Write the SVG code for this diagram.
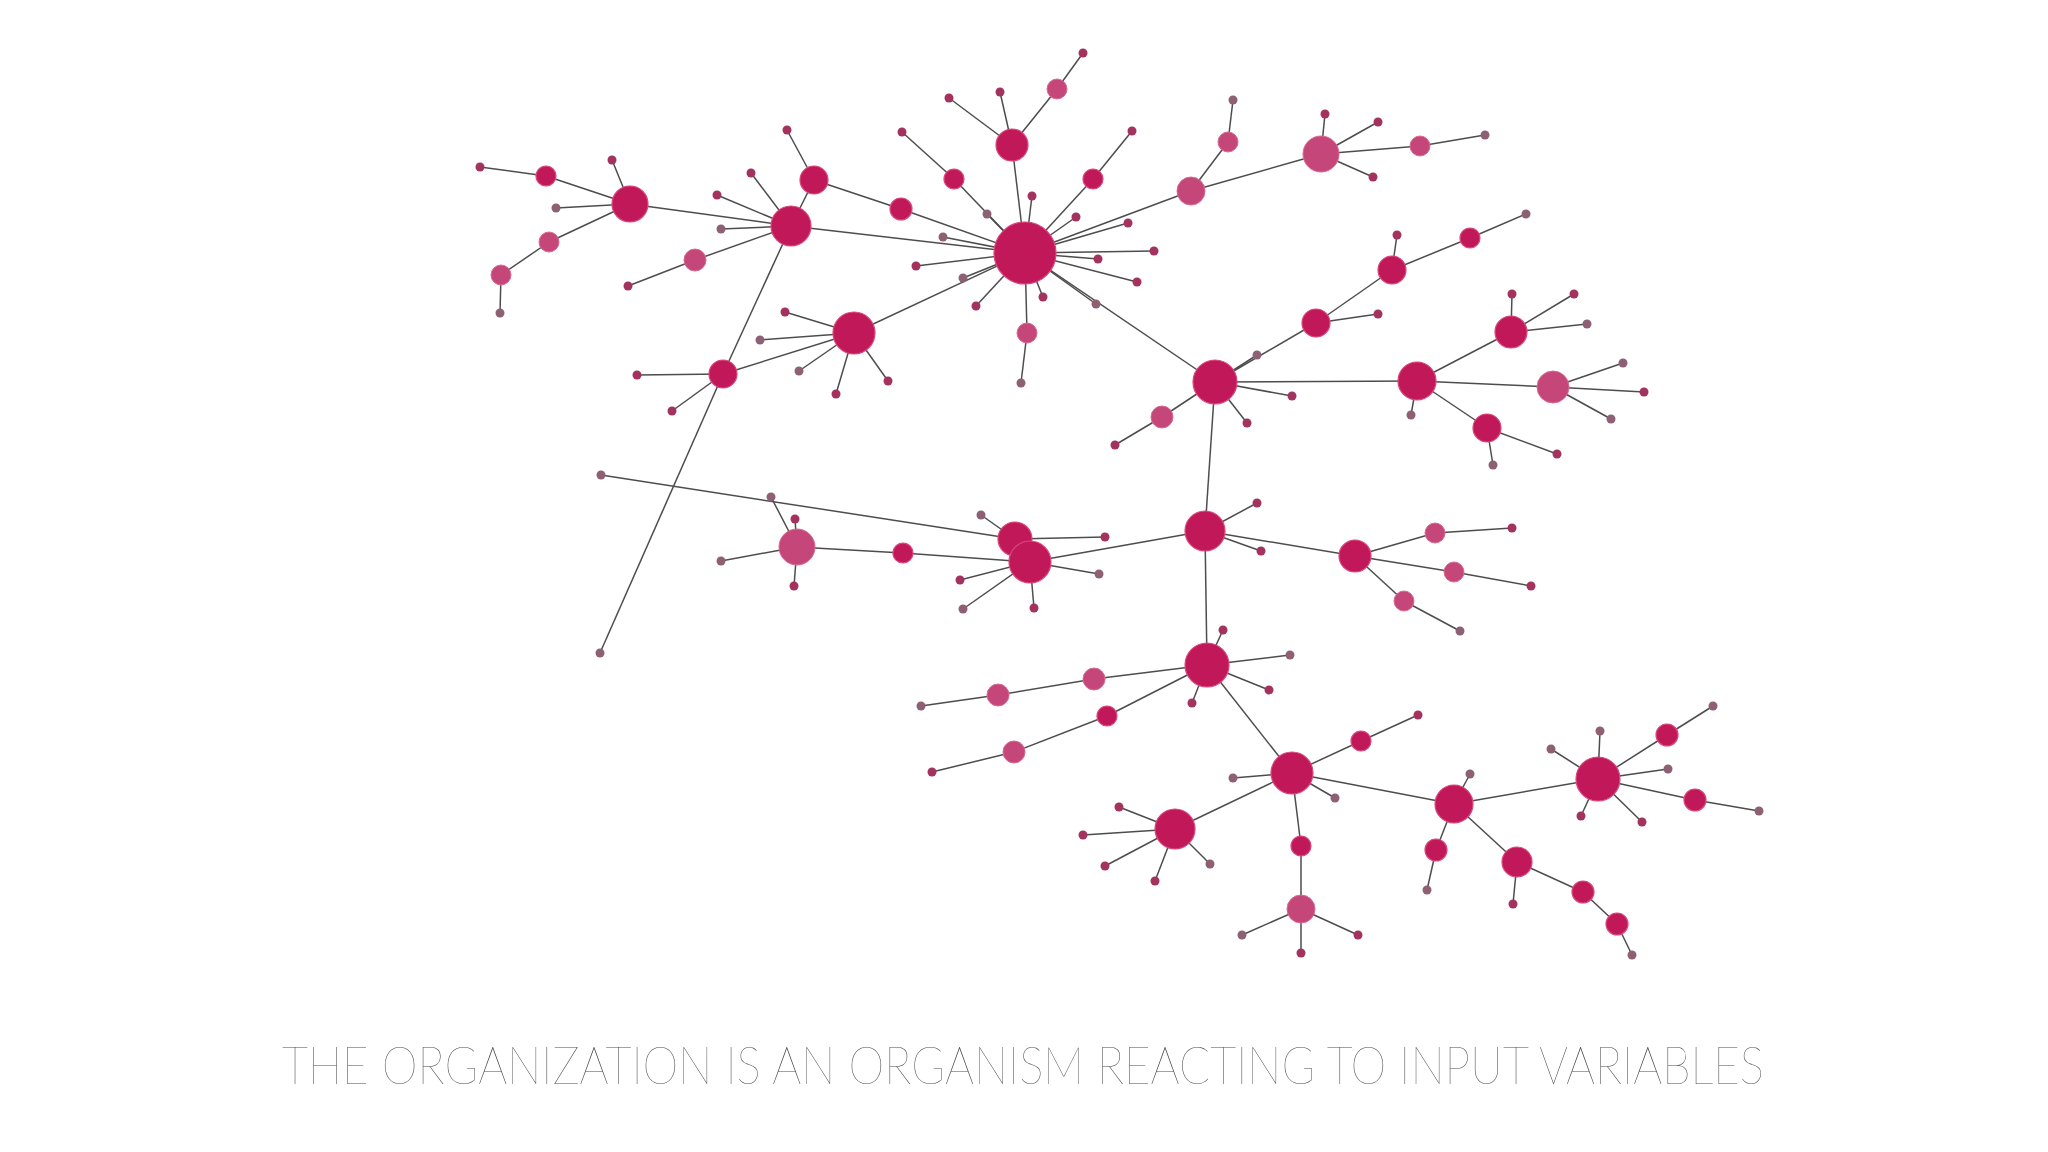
<svg xmlns="http://www.w3.org/2000/svg" width="2048" height="1152" viewBox="0 0 2048 1152">
<style>
.e line{stroke:#4d4d4d;stroke-width:1.5}
.h{fill:#c1185a;stroke:#d9487c;stroke-width:1.2}
.s{fill:#c5477a;stroke:#da6a92;stroke-width:1}
.l{fill:#a3325e}
.g{fill:#8e6073}
.cap{font-family:Lato,"Open Sans","Liberation Sans",sans-serif;font-weight:100;font-size:52px;fill:#4a4a4a}
</style>
<rect width="2048" height="1152" fill="#ffffff"/>
<g id="connectors" class="e">
<line x1="480" y1="167" x2="546" y2="176"/><line x1="546" y1="176" x2="630" y2="204"/><line x1="630" y1="204" x2="612" y2="160"/><line x1="630" y1="204" x2="556" y2="208"/><line x1="630" y1="204" x2="549" y2="242"/><line x1="549" y1="242" x2="501" y2="275"/><line x1="501" y1="275" x2="500" y2="313"/><line x1="630" y1="204" x2="791" y2="226"/>
<line x1="791" y1="226" x2="814" y2="180"/><line x1="814" y1="180" x2="787" y2="130"/><line x1="814" y1="180" x2="901" y2="209"/><line x1="901" y1="209" x2="1025" y2="253"/><line x1="902" y1="132" x2="954" y2="179"/>
<line x1="791" y1="226" x2="751" y2="173"/><line x1="791" y1="226" x2="717" y2="195"/><line x1="791" y1="226" x2="721" y2="229"/><line x1="791" y1="226" x2="695" y2="260"/><line x1="695" y1="260" x2="628" y2="286"/><line x1="791" y1="226" x2="1025" y2="253"/><line x1="791" y1="226" x2="723" y2="374"/><line x1="723" y1="374" x2="600" y2="653"/><line x1="723" y1="374" x2="637" y2="375"/><line x1="723" y1="374" x2="672" y2="411"/><line x1="723" y1="374" x2="854" y2="333"/>
<line x1="854" y1="333" x2="785" y2="312"/><line x1="854" y1="333" x2="760" y2="340"/><line x1="854" y1="333" x2="799" y2="371"/><line x1="854" y1="333" x2="836" y2="394"/><line x1="854" y1="333" x2="888" y2="381"/><line x1="854" y1="333" x2="1025" y2="253"/>
<line x1="1025" y1="253" x2="1012" y2="145"/><line x1="1025" y1="253" x2="954" y2="179"/><line x1="1025" y1="253" x2="987" y2="214"/><line x1="1025" y1="253" x2="1093" y2="179"/><line x1="1025" y1="253" x2="1032" y2="196"/><line x1="1025" y1="253" x2="1076" y2="217"/><line x1="1025" y1="253" x2="1128" y2="223"/><line x1="1025" y1="253" x2="1154" y2="251"/><line x1="1025" y1="253" x2="1098" y2="259"/><line x1="1025" y1="253" x2="1137" y2="282"/><line x1="1025" y1="253" x2="1096" y2="304"/><line x1="1025" y1="253" x2="1043" y2="297"/><line x1="1025" y1="253" x2="976" y2="306"/><line x1="1025" y1="253" x2="963" y2="278"/><line x1="1025" y1="253" x2="916" y2="266"/><line x1="1025" y1="253" x2="943" y2="237"/><line x1="1025" y1="253" x2="1027" y2="333"/><line x1="1027" y1="333" x2="1021" y2="383"/><line x1="1025" y1="253" x2="1191" y2="191"/><line x1="1025" y1="253" x2="1215" y2="382"/>
<line x1="1012" y1="145" x2="949" y2="98"/><line x1="1012" y1="145" x2="1000" y2="92"/><line x1="1012" y1="145" x2="1057" y2="89"/><line x1="1057" y1="89" x2="1083" y2="53"/><line x1="1093" y1="179" x2="1132" y2="131"/>
<line x1="1191" y1="191" x2="1228" y2="142"/><line x1="1228" y1="142" x2="1233" y2="100"/><line x1="1191" y1="191" x2="1321" y2="154"/><line x1="1321" y1="154" x2="1325" y2="114"/><line x1="1321" y1="154" x2="1378" y2="122"/><line x1="1321" y1="154" x2="1420" y2="146"/><line x1="1321" y1="154" x2="1373" y2="177"/><line x1="1420" y1="146" x2="1485" y2="135"/>
<line x1="1215" y1="382" x2="1257" y2="355"/><line x1="1215" y1="382" x2="1292" y2="396"/><line x1="1215" y1="382" x2="1247" y2="423"/><line x1="1215" y1="382" x2="1162" y2="417"/><line x1="1162" y1="417" x2="1115" y2="445"/><line x1="1215" y1="382" x2="1316" y2="323"/><line x1="1316" y1="323" x2="1378" y2="314"/><line x1="1316" y1="323" x2="1392" y2="270"/><line x1="1392" y1="270" x2="1397" y2="235"/><line x1="1392" y1="270" x2="1470" y2="238"/><line x1="1470" y1="238" x2="1526" y2="214"/>
<line x1="1215" y1="382" x2="1417" y2="381"/><line x1="1417" y1="381" x2="1511" y2="332"/><line x1="1417" y1="381" x2="1553" y2="387"/><line x1="1417" y1="381" x2="1487" y2="428"/><line x1="1417" y1="381" x2="1411" y2="415"/><line x1="1511" y1="332" x2="1512" y2="294"/><line x1="1511" y1="332" x2="1574" y2="294"/><line x1="1511" y1="332" x2="1587" y2="324"/><line x1="1553" y1="387" x2="1623" y2="363"/><line x1="1553" y1="387" x2="1644" y2="392"/><line x1="1553" y1="387" x2="1611" y2="419"/><line x1="1487" y1="428" x2="1557" y2="454"/><line x1="1487" y1="428" x2="1493" y2="465"/>
<line x1="1215" y1="382" x2="1205" y2="531"/><line x1="1205" y1="531" x2="1257" y2="503"/><line x1="1205" y1="531" x2="1261" y2="551"/><line x1="1205" y1="531" x2="1355" y2="556"/><line x1="1355" y1="556" x2="1435" y2="533"/><line x1="1435" y1="533" x2="1512" y2="528"/><line x1="1355" y1="556" x2="1454" y2="572"/><line x1="1454" y1="572" x2="1531" y2="586"/><line x1="1355" y1="556" x2="1404" y2="601"/><line x1="1404" y1="601" x2="1460" y2="631"/>
<line x1="1205" y1="531" x2="1030" y2="562"/><line x1="601" y1="475" x2="1015" y2="539"/><line x1="1015" y1="539" x2="981" y2="515"/><line x1="1015" y1="539" x2="1105" y2="537"/><line x1="1030" y1="562" x2="1099" y2="574"/><line x1="1030" y1="562" x2="960" y2="580"/><line x1="1030" y1="562" x2="963" y2="609"/><line x1="1030" y1="562" x2="1034" y2="608"/><line x1="1030" y1="562" x2="903" y2="553"/><line x1="903" y1="553" x2="797" y2="547"/><line x1="797" y1="547" x2="771" y2="497"/><line x1="797" y1="547" x2="795" y2="519"/><line x1="797" y1="547" x2="721" y2="561"/><line x1="797" y1="547" x2="794" y2="586"/>
<line x1="1205" y1="531" x2="1207" y2="665"/><line x1="1207" y1="665" x2="1223" y2="630"/><line x1="1207" y1="665" x2="1290" y2="655"/><line x1="1207" y1="665" x2="1269" y2="690"/><line x1="1207" y1="665" x2="1192" y2="703"/><line x1="1207" y1="665" x2="1094" y2="679"/><line x1="1094" y1="679" x2="998" y2="695"/><line x1="998" y1="695" x2="921" y2="706"/><line x1="1207" y1="665" x2="1107" y2="716"/><line x1="1107" y1="716" x2="1014" y2="752"/><line x1="1014" y1="752" x2="932" y2="772"/><line x1="1207" y1="665" x2="1292" y2="773"/>
<line x1="1292" y1="773" x2="1233" y2="778"/><line x1="1292" y1="773" x2="1335" y2="798"/><line x1="1292" y1="773" x2="1175" y2="829"/><line x1="1175" y1="829" x2="1119" y2="807"/><line x1="1175" y1="829" x2="1083" y2="835"/><line x1="1175" y1="829" x2="1105" y2="866"/><line x1="1175" y1="829" x2="1155" y2="881"/><line x1="1175" y1="829" x2="1210" y2="864"/><line x1="1292" y1="773" x2="1301" y2="846"/><line x1="1301" y1="846" x2="1301" y2="909"/><line x1="1301" y1="909" x2="1242" y2="935"/><line x1="1301" y1="909" x2="1301" y2="953"/><line x1="1301" y1="909" x2="1358" y2="935"/><line x1="1292" y1="773" x2="1361" y2="741"/><line x1="1361" y1="741" x2="1418" y2="715"/><line x1="1292" y1="773" x2="1454" y2="804"/>
<line x1="1454" y1="804" x2="1470" y2="774"/><line x1="1454" y1="804" x2="1598" y2="779"/><line x1="1454" y1="804" x2="1436" y2="850"/><line x1="1436" y1="850" x2="1427" y2="890"/><line x1="1454" y1="804" x2="1517" y2="862"/><line x1="1517" y1="862" x2="1513" y2="904"/><line x1="1517" y1="862" x2="1583" y2="892"/><line x1="1583" y1="892" x2="1617" y2="924"/><line x1="1617" y1="924" x2="1632" y2="955"/>
<line x1="1598" y1="779" x2="1600" y2="731"/><line x1="1598" y1="779" x2="1551" y2="749"/><line x1="1598" y1="779" x2="1667" y2="735"/><line x1="1667" y1="735" x2="1713" y2="706"/><line x1="1598" y1="779" x2="1668" y2="769"/><line x1="1598" y1="779" x2="1695" y2="800"/><line x1="1695" y1="800" x2="1759" y2="811"/><line x1="1598" y1="779" x2="1642" y2="822"/><line x1="1598" y1="779" x2="1581" y2="816"/>
</g>
<g id="nodes">
<g id="n1"><circle class="l" cx="480" cy="167" r="4.5"/></g>
<g id="n2"><circle class="h" cx="546" cy="176" r="10"/></g>
<g id="n3"><circle class="h" cx="630" cy="204" r="18"/></g>
<g id="n4"><circle class="l" cx="612" cy="160" r="4.5"/></g>
<g id="n5"><circle class="g" cx="556" cy="208" r="4.5"/></g>
<g id="n6"><circle class="s" cx="549" cy="242" r="10"/></g>
<g id="n7"><circle class="s" cx="501" cy="275" r="10"/></g>
<g id="n8"><circle class="g" cx="500" cy="313" r="4.5"/></g>
<g id="n9"><circle class="h" cx="791" cy="226" r="20"/></g>
<g id="n10"><circle class="h" cx="814" cy="180" r="14"/></g>
<g id="n11"><circle class="l" cx="787" cy="130" r="4.5"/></g>
<g id="n12"><circle class="l" cx="751" cy="173" r="4.5"/></g>
<g id="n13"><circle class="l" cx="717" cy="195" r="4.5"/></g>
<g id="n14"><circle class="g" cx="721" cy="229" r="4.5"/></g>
<g id="n15"><circle class="s" cx="695" cy="260" r="11"/></g>
<g id="n16"><circle class="l" cx="628" cy="286" r="4.5"/></g>
<g id="n17"><circle class="h" cx="854" cy="333" r="21"/></g>
<g id="n18"><circle class="l" cx="785" cy="312" r="4.5"/></g>
<g id="n19"><circle class="g" cx="760" cy="340" r="4.5"/></g>
<g id="n20"><circle class="g" cx="799" cy="371" r="4.5"/></g>
<g id="n21"><circle class="l" cx="836" cy="394" r="4.5"/></g>
<g id="n22"><circle class="l" cx="888" cy="381" r="4.5"/></g>
<g id="n23"><circle class="h" cx="723" cy="374" r="14"/></g>
<g id="n24"><circle class="l" cx="637" cy="375" r="4.5"/></g>
<g id="n25"><circle class="l" cx="672" cy="411" r="4.5"/></g>
<g id="n26"><circle class="g" cx="600" cy="653" r="4.5"/></g>
<g id="n27"><circle class="h" cx="901" cy="209" r="11"/></g>
<g id="n28"><circle class="l" cx="902" cy="132" r="4.5"/></g>
<g id="n29"><circle class="h" cx="1025" cy="253" r="31"/></g>
<g id="n30"><circle class="h" cx="1012" cy="145" r="16"/></g>
<g id="n31"><circle class="l" cx="949" cy="98" r="4.5"/></g>
<g id="n32"><circle class="l" cx="1000" cy="92" r="4.5"/></g>
<g id="n33"><circle class="s" cx="1057" cy="89" r="10"/></g>
<g id="n34"><circle class="l" cx="1083" cy="53" r="4.5"/></g>
<g id="n35"><circle class="h" cx="954" cy="179" r="10"/></g>
<g id="n36"><circle class="g" cx="987" cy="214" r="4.5"/></g>
<g id="n37"><circle class="h" cx="1093" cy="179" r="10"/></g>
<g id="n38"><circle class="l" cx="1132" cy="131" r="4.5"/></g>
<g id="n39"><circle class="l" cx="1032" cy="196" r="4.5"/></g>
<g id="n40"><circle class="l" cx="1076" cy="217" r="4.5"/></g>
<g id="n41"><circle class="l" cx="1128" cy="223" r="4.5"/></g>
<g id="n42"><circle class="l" cx="1154" cy="251" r="4.5"/></g>
<g id="n43"><circle class="l" cx="1098" cy="259" r="4.5"/></g>
<g id="n44"><circle class="l" cx="1137" cy="282" r="4.5"/></g>
<g id="n45"><circle class="g" cx="1096" cy="304" r="4.5"/></g>
<g id="n46"><circle class="l" cx="1043" cy="297" r="4.5"/></g>
<g id="n47"><circle class="l" cx="976" cy="306" r="4.5"/></g>
<g id="n48"><circle class="g" cx="963" cy="278" r="4.5"/></g>
<g id="n49"><circle class="l" cx="916" cy="266" r="4.5"/></g>
<g id="n50"><circle class="g" cx="943" cy="237" r="4.5"/></g>
<g id="n51"><circle class="s" cx="1027" cy="333" r="10"/></g>
<g id="n52"><circle class="g" cx="1021" cy="383" r="4.5"/></g>
<g id="n53"><circle class="s" cx="1191" cy="191" r="14"/></g>
<g id="n54"><circle class="s" cx="1228" cy="142" r="10"/></g>
<g id="n55"><circle class="g" cx="1233" cy="100" r="4.5"/></g>
<g id="n56"><circle class="s" cx="1321" cy="154" r="18"/></g>
<g id="n57"><circle class="l" cx="1325" cy="114" r="4.5"/></g>
<g id="n58"><circle class="l" cx="1378" cy="122" r="4.5"/></g>
<g id="n59"><circle class="s" cx="1420" cy="146" r="10"/></g>
<g id="n60"><circle class="g" cx="1485" cy="135" r="4.5"/></g>
<g id="n61"><circle class="l" cx="1373" cy="177" r="4.5"/></g>
<g id="n62"><circle class="h" cx="1215" cy="382" r="22"/></g>
<g id="n63"><circle class="g" cx="1257" cy="355" r="4.5"/></g>
<g id="n64"><circle class="l" cx="1292" cy="396" r="4.5"/></g>
<g id="n65"><circle class="l" cx="1247" cy="423" r="4.5"/></g>
<g id="n66"><circle class="s" cx="1162" cy="417" r="11"/></g>
<g id="n67"><circle class="l" cx="1115" cy="445" r="4.5"/></g>
<g id="n68"><circle class="h" cx="1316" cy="323" r="14"/></g>
<g id="n69"><circle class="l" cx="1378" cy="314" r="4.5"/></g>
<g id="n70"><circle class="h" cx="1392" cy="270" r="14"/></g>
<g id="n71"><circle class="l" cx="1397" cy="235" r="4.5"/></g>
<g id="n72"><circle class="h" cx="1470" cy="238" r="10"/></g>
<g id="n73"><circle class="g" cx="1526" cy="214" r="4.5"/></g>
<g id="n74"><circle class="h" cx="1417" cy="381" r="19"/></g>
<g id="n75"><circle class="h" cx="1511" cy="332" r="16"/></g>
<g id="n76"><circle class="l" cx="1512" cy="294" r="4.5"/></g>
<g id="n77"><circle class="l" cx="1574" cy="294" r="4.5"/></g>
<g id="n78"><circle class="g" cx="1587" cy="324" r="4.5"/></g>
<g id="n79"><circle class="s" cx="1553" cy="387" r="16"/></g>
<g id="n80"><circle class="g" cx="1623" cy="363" r="4.5"/></g>
<g id="n81"><circle class="l" cx="1644" cy="392" r="4.5"/></g>
<g id="n82"><circle class="g" cx="1611" cy="419" r="4.5"/></g>
<g id="n83"><circle class="h" cx="1487" cy="428" r="14"/></g>
<g id="n84"><circle class="l" cx="1557" cy="454" r="4.5"/></g>
<g id="n85"><circle class="g" cx="1493" cy="465" r="4.5"/></g>
<g id="n86"><circle class="g" cx="1411" cy="415" r="4.5"/></g>
<g id="n87"><circle class="h" cx="1205" cy="531" r="20"/></g>
<g id="n88"><circle class="l" cx="1257" cy="503" r="4.5"/></g>
<g id="n89"><circle class="l" cx="1261" cy="551" r="4.5"/></g>
<g id="n90"><circle class="h" cx="1355" cy="556" r="16"/></g>
<g id="n91"><circle class="s" cx="1435" cy="533" r="10"/></g>
<g id="n92"><circle class="l" cx="1512" cy="528" r="4.5"/></g>
<g id="n93"><circle class="s" cx="1454" cy="572" r="10"/></g>
<g id="n94"><circle class="l" cx="1531" cy="586" r="4.5"/></g>
<g id="n95"><circle class="s" cx="1404" cy="601" r="10"/></g>
<g id="n96"><circle class="g" cx="1460" cy="631" r="4.5"/></g>
<g id="n97"><circle class="h" cx="1015" cy="539" r="17"/></g>
<g id="n98"><circle class="h" cx="1030" cy="562" r="21"/></g>
<g id="n99"><circle class="g" cx="981" cy="515" r="4.5"/></g>
<g id="n100"><circle class="l" cx="1105" cy="537" r="4.5"/></g>
<g id="n101"><circle class="g" cx="1099" cy="574" r="4.5"/></g>
<g id="n102"><circle class="l" cx="960" cy="580" r="4.5"/></g>
<g id="n103"><circle class="g" cx="963" cy="609" r="4.5"/></g>
<g id="n104"><circle class="l" cx="1034" cy="608" r="4.5"/></g>
<g id="n105"><circle class="h" cx="903" cy="553" r="10"/></g>
<g id="n106"><circle class="s" cx="797" cy="547" r="18"/></g>
<g id="n107"><circle class="g" cx="771" cy="497" r="4.5"/></g>
<g id="n108"><circle class="l" cx="795" cy="519" r="4.5"/></g>
<g id="n109"><circle class="g" cx="721" cy="561" r="4.5"/></g>
<g id="n110"><circle class="l" cx="794" cy="586" r="4.5"/></g>
<g id="n111"><circle class="g" cx="601" cy="475" r="4.5"/></g>
<g id="n112"><circle class="h" cx="1207" cy="665" r="22"/></g>
<g id="n113"><circle class="l" cx="1223" cy="630" r="4.5"/></g>
<g id="n114"><circle class="g" cx="1290" cy="655" r="4.5"/></g>
<g id="n115"><circle class="l" cx="1269" cy="690" r="4.5"/></g>
<g id="n116"><circle class="l" cx="1192" cy="703" r="4.5"/></g>
<g id="n117"><circle class="s" cx="1094" cy="679" r="11"/></g>
<g id="n118"><circle class="s" cx="998" cy="695" r="11"/></g>
<g id="n119"><circle class="g" cx="921" cy="706" r="4.5"/></g>
<g id="n120"><circle class="h" cx="1107" cy="716" r="10"/></g>
<g id="n121"><circle class="s" cx="1014" cy="752" r="11"/></g>
<g id="n122"><circle class="l" cx="932" cy="772" r="4.5"/></g>
<g id="n123"><circle class="h" cx="1292" cy="773" r="21"/></g>
<g id="n124"><circle class="g" cx="1233" cy="778" r="4.5"/></g>
<g id="n125"><circle class="g" cx="1335" cy="798" r="4.5"/></g>
<g id="n126"><circle class="h" cx="1175" cy="829" r="20"/></g>
<g id="n127"><circle class="l" cx="1119" cy="807" r="4.5"/></g>
<g id="n128"><circle class="l" cx="1083" cy="835" r="4.5"/></g>
<g id="n129"><circle class="l" cx="1105" cy="866" r="4.5"/></g>
<g id="n130"><circle class="l" cx="1155" cy="881" r="4.5"/></g>
<g id="n131"><circle class="g" cx="1210" cy="864" r="4.5"/></g>
<g id="n132"><circle class="h" cx="1301" cy="846" r="10"/></g>
<g id="n133"><circle class="s" cx="1301" cy="909" r="14"/></g>
<g id="n134"><circle class="g" cx="1242" cy="935" r="4.5"/></g>
<g id="n135"><circle class="l" cx="1301" cy="953" r="4.5"/></g>
<g id="n136"><circle class="l" cx="1358" cy="935" r="4.5"/></g>
<g id="n137"><circle class="h" cx="1361" cy="741" r="10"/></g>
<g id="n138"><circle class="l" cx="1418" cy="715" r="4.5"/></g>
<g id="n139"><circle class="h" cx="1454" cy="804" r="19"/></g>
<g id="n140"><circle class="g" cx="1470" cy="774" r="4.5"/></g>
<g id="n141"><circle class="h" cx="1598" cy="779" r="22"/></g>
<g id="n142"><circle class="g" cx="1600" cy="731" r="4.5"/></g>
<g id="n143"><circle class="g" cx="1551" cy="749" r="4.5"/></g>
<g id="n144"><circle class="h" cx="1667" cy="735" r="11"/></g>
<g id="n145"><circle class="g" cx="1713" cy="706" r="4.5"/></g>
<g id="n146"><circle class="g" cx="1668" cy="769" r="4.5"/></g>
<g id="n147"><circle class="h" cx="1695" cy="800" r="11"/></g>
<g id="n148"><circle class="g" cx="1759" cy="811" r="4.5"/></g>
<g id="n149"><circle class="l" cx="1642" cy="822" r="4.5"/></g>
<g id="n150"><circle class="l" cx="1581" cy="816" r="4.5"/></g>
<g id="n151"><circle class="h" cx="1436" cy="850" r="11"/></g>
<g id="n152"><circle class="g" cx="1427" cy="890" r="4.5"/></g>
<g id="n153"><circle class="h" cx="1517" cy="862" r="15"/></g>
<g id="n154"><circle class="l" cx="1513" cy="904" r="4.5"/></g>
<g id="n155"><circle class="h" cx="1583" cy="892" r="11"/></g>
<g id="n156"><circle class="h" cx="1617" cy="924" r="11"/></g>
<g id="n157"><circle class="g" cx="1632" cy="955" r="4.5"/></g>
</g>
<text class="cap" x="1023" y="1084" text-anchor="middle" textLength="1482" lengthAdjust="spacingAndGlyphs">THE ORGANIZATION IS AN ORGANISM REACTING TO INPUT VARIABLES</text>
</svg>
